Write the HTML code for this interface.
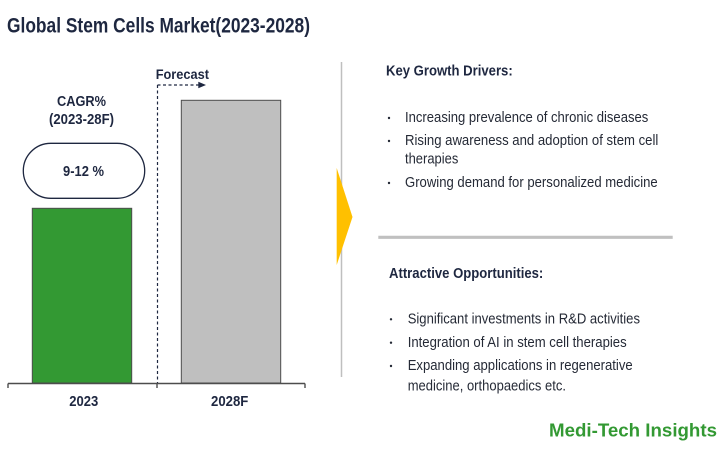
<!DOCTYPE html>
<html>
<head>
<meta charset="utf-8">
<style>
  html,body{margin:0;padding:0;background:#ffffff;}
  svg{display:block;}
  text{font-family:"Liberation Sans",Arial,sans-serif;}
  .b{font-weight:bold;fill:#1e2740;}
  .n{fill:#252a36;}
</style>
</head>
<body>
<svg width="726" height="453" viewBox="0 0 726 453" xmlns="http://www.w3.org/2000/svg">
  <rect x="0" y="0" width="726" height="453" fill="#ffffff"/>

  <!-- Title -->
  <text class="b" x="7" y="32.3" font-size="21" textLength="303" lengthAdjust="spacingAndGlyphs">Global Stem Cells Market(2023-2028)</text>

  <!-- Forecast -->
  <text class="b" x="155.7" y="79" font-size="13.5" textLength="53.3" lengthAdjust="spacingAndGlyphs">Forecast</text>
  <line x1="157.5" y1="85" x2="199" y2="85" stroke="#1e2740" stroke-width="1.2" stroke-dasharray="3,2.5"/>
  <polygon points="198.3,81.8 206,85 198.3,88.2" fill="#1e2740"/>
  <line x1="157.5" y1="85" x2="157.5" y2="383" stroke="#1e2740" stroke-width="1.2" stroke-dasharray="3,2.5"/>

  <!-- CAGR -->
  <text class="b" x="81.5" y="106" font-size="14.5" text-anchor="middle" textLength="49" lengthAdjust="spacingAndGlyphs">CAGR%</text>
  <text class="b" x="81.5" y="124" font-size="14.5" text-anchor="middle" textLength="65" lengthAdjust="spacingAndGlyphs">(2023-28F)</text>
  <rect x="23.3" y="143.3" width="121.4" height="55" rx="27.5" ry="27.5" fill="#ffffff" stroke="#1e2740" stroke-width="1.3"/>
  <text class="b" x="83.5" y="176" font-size="14.5" text-anchor="middle" textLength="41" lengthAdjust="spacingAndGlyphs">9-12 %</text>

  <!-- Bars -->
  <rect x="32.3" y="208.3" width="99.4" height="174.7" fill="#339933" stroke="#4d4d4d" stroke-width="1"/>
  <rect x="181.3" y="100.3" width="99.4" height="282.7" fill="#bfbfbf" stroke="#4d4d4d" stroke-width="1"/>

  <!-- Axis -->
  <line x1="8" y1="383.5" x2="305" y2="383.5" stroke="#4d4d4d" stroke-width="1.6"/>
  <line x1="8" y1="383.5" x2="8" y2="388" stroke="#4d4d4d" stroke-width="1.4"/>
  <line x1="157" y1="383.5" x2="157" y2="388" stroke="#4d4d4d" stroke-width="1.4"/>
  <line x1="305" y1="383.5" x2="305" y2="388" stroke="#4d4d4d" stroke-width="1.4"/>
  <text class="b" x="83.8" y="406" font-size="14.5" text-anchor="middle" textLength="29" lengthAdjust="spacingAndGlyphs">2023</text>
  <text class="b" x="229.7" y="406" font-size="14.5" text-anchor="middle" textLength="37.3" lengthAdjust="spacingAndGlyphs">2028F</text>

  <!-- Divider and chevron -->
  <line x1="341.5" y1="62" x2="341.5" y2="377" stroke="#bfbfbf" stroke-width="1.5"/>
  <polygon points="336.7,168 352.5,217 336.7,265" fill="#ffc000"/>

  <!-- Key Growth Drivers -->
  <text class="b" x="386" y="75.5" font-size="14.5" textLength="126.7" lengthAdjust="spacingAndGlyphs">Key Growth Drivers:</text>
  <g class="n" font-size="14.5">
    <circle cx="389" cy="118" r="1.2" fill="#252a36"/>
    <text x="405" y="122" textLength="243.3" lengthAdjust="spacingAndGlyphs">Increasing prevalence of chronic diseases</text>
    <circle cx="389" cy="141" r="1.2" fill="#252a36"/>
    <text x="405" y="145" textLength="253.3" lengthAdjust="spacingAndGlyphs">Rising awareness and adoption of stem cell</text>
    <text x="405" y="163.5" textLength="53.3" lengthAdjust="spacingAndGlyphs">therapies</text>
    <circle cx="389" cy="183" r="1.2" fill="#252a36"/>
    <text x="405" y="187" textLength="252.7" lengthAdjust="spacingAndGlyphs">Growing demand for personalized medicine</text>
  </g>

  <!-- Separator -->
  <line x1="378.3" y1="237.3" x2="672.7" y2="237.3" stroke="#c0c0c0" stroke-width="3.2"/>

  <!-- Attractive Opportunities -->
  <text class="b" x="389" y="278" font-size="14.5" textLength="154.3" lengthAdjust="spacingAndGlyphs">Attractive Opportunities:</text>
  <g class="n" font-size="14.5">
    <circle cx="391" cy="319.3" r="1.2" fill="#252a36"/>
    <text x="407.7" y="323.5" textLength="232.3" lengthAdjust="spacingAndGlyphs">Significant investments in R&amp;D activities</text>
    <circle cx="391" cy="342.7" r="1.2" fill="#252a36"/>
    <text x="407.7" y="347" textLength="219" lengthAdjust="spacingAndGlyphs">Integration of AI in stem cell therapies</text>
    <circle cx="391" cy="366" r="1.2" fill="#252a36"/>
    <text x="407.7" y="370" textLength="225" lengthAdjust="spacingAndGlyphs">Expanding applications in regenerative</text>
    <text x="407.7" y="390.5" textLength="158.3" lengthAdjust="spacingAndGlyphs">medicine, orthopaedics etc.</text>
  </g>

  <!-- Brand -->
  <text x="549" y="436.7" font-size="18.6" font-weight="bold" fill="#339933" textLength="168" lengthAdjust="spacingAndGlyphs">Medi-Tech Insights</text>
</svg>
</body>
</html>
